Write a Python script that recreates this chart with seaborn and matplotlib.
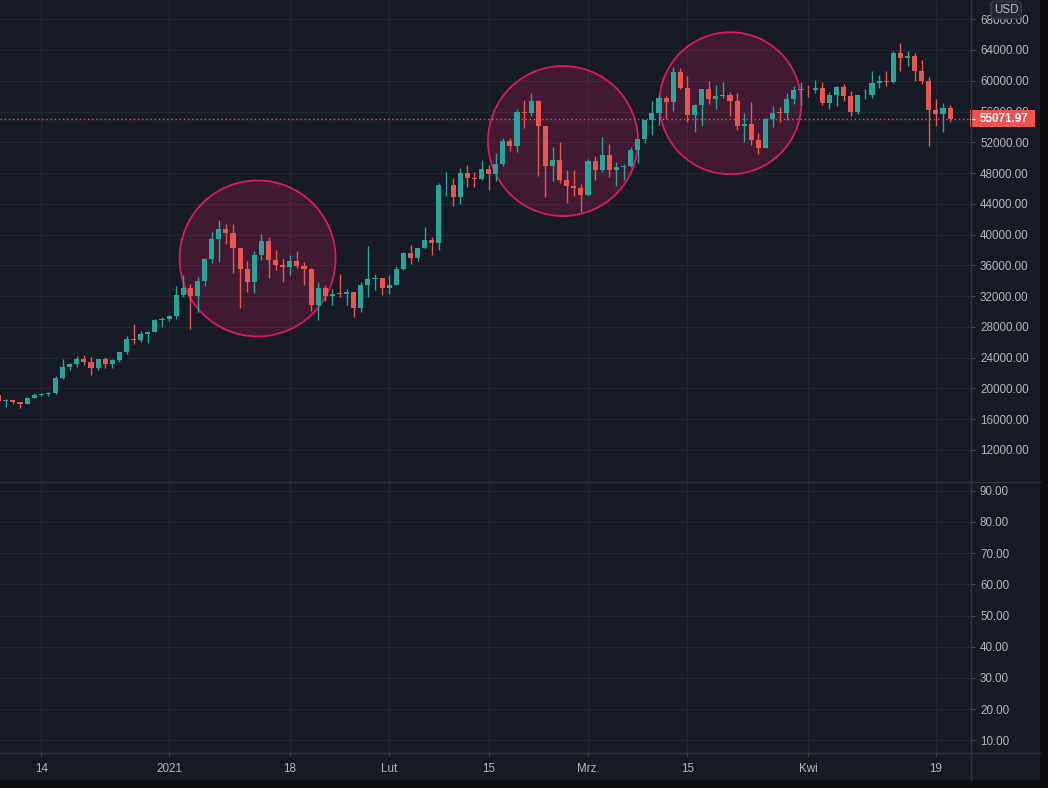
import numpy as np
import pandas as pd
import matplotlib
matplotlib.use("Agg")
import matplotlib.pyplot as plt
import matplotlib.dates as mdates
from matplotlib.patches import Ellipse, Rectangle
from matplotlib.lines import Line2D
from matplotlib.ticker import FuncFormatter
from matplotlib.transforms import blended_transform_factory
import seaborn as sns

# daily BTC/USD candles, 2020-12-08 .. 2021-04-21
start_date = "2020-12-08"
open_ = [
    # Dec
    19150, 18320, 18540, 18250, 18040, 18800, 19170, 19270, 19430, 21330, 22800, 23130,
    23850, 23470, 22720, 23820, 23240, 23730, 24710, 26490, 26280, 27080, 27390, 28890,
    # Jan
    28990, 29370, 32190, 33000, 31990, 33950, 36770, 39370, 40670, 40240, 38240, 35550,
    33900, 37320, 39130, 36760, 36020, 35790, 36630, 35890, 35470, 30850, 33000, 32070,
    32260, 32250, 32510, 30410, 33400, 34260, 34300,
    # Feb
    33090, 33500, 35500, 37660, 36950, 38290, 39250, 38900, 46400, 46480, 44840, 47970,
    47400, 47190, 48580, 47930, 49130, 52120, 51550, 55900, 55840, 57410, 54090, 48890,
    49680, 47070, 46280, 46100,
    # Mar
    45140, 49590, 48440, 50350, 48370, 48760, 48880, 50970, 52380, 54880, 55850, 57770,
    57220, 61190, 59000, 55600, 56900, 58910, 57650, 58030, 58100, 57350, 54080, 54340,
    52300, 51300, 55070, 55860, 55780, 57630, 58780,
    # Apr
    58800, 58740, 59000, 57060, 58210, 59130, 57990, 56000, 58090, 58100, 59770, 59960,
    59840, 63590, 62960, 63160, 61330, 60010, 56150, 55660, 56470,
]
high = [
    19300, 18640, 18560, 18290, 18950, 19410, 19350, 19570, 21560, 23800, 23290, 24170,
    24300, 24100, 23840, 24100, 23780, 24790, 26870, 28420, 27500, 27410, 28990, 29300,
    29600, 33300, 34800, 33600, 34500, 36940, 40370, 41950, 41380, 41350, 38260, 36630,
    37850, 40100, 39700, 37950, 36850, 37300, 37850, 36400, 35600, 33830, 33450, 32950,
    34880, 32920, 32560, 33780, 38530, 34930, 34330,
    34700, 35980, 37700, 38700, 38310, 40960, 39700, 46750, 48200, 47310, 48630, 48990,
    48150, 49710, 49010, 50620, 52620, 52530, 56370, 57500, 58350, 57530, 54180, 51380,
    52040, 48400, 48390, 46640,
    49790, 50200, 52640, 51770, 49450, 49200, 51450, 52400, 54900, 57390, 58150, 58060,
    61840, 61680, 60630, 56940, 58980, 60000, 59470, 59880, 58590, 58430, 55850, 57200,
    53230, 55100, 56700, 56560, 58400, 59370, 59800,
    59490, 60100, 59840, 58500, 59320, 59580, 58650, 58150, 58930, 61270, 60750, 61270,
    63870, 64910, 63870, 63600, 62700, 60490, 57630, 57110, 56850,
]
low = [
    18200, 17650, 17920, 17500, 18020, 18710, 19000, 19050, 19280, 21230, 22350, 22750,
    23060, 21800, 22350, 22600, 22700, 23440, 24500, 25800, 26100, 25880, 27320, 28000,
    28800, 29000, 31950, 27680, 29900, 33300, 36300, 36500, 38720, 35000, 30420, 32530,
    32380, 36700, 34400, 35350, 33850, 34800, 35700, 33400, 30070, 28850, 31390, 30900,
    31910, 30840, 29240, 29960, 31920, 32860, 32200,
    32300, 33420, 35360, 36160, 36570, 38210, 37350, 37990, 45000, 43730, 44000, 46130,
    46200, 47050, 45800, 47010, 48950, 50900, 50710, 53860, 55480, 47620, 44890, 47000,
    46670, 44110, 45000, 43000,
    45000, 47050, 48100, 47500, 46300, 47070, 48800, 49300, 51850, 53010, 54270, 55010,
    56080, 58960, 54600, 53300, 54120, 57020, 56270, 57820, 55450, 53650, 52040, 51700,
    50430, 51250, 53950, 54680, 54900, 57020, 56870,
    57930, 58430, 56900, 56330, 56720, 57350, 55420, 55720, 57630, 57760, 59060, 59320,
    59770, 61270, 61920, 59970, 59580, 51520, 54120, 53340, 54640,
]
close = [
    18320, 18540, 18250, 18040, 18800, 19170, 19270, 19430, 21330, 22800, 23130, 23850,
    23470, 22720, 23820, 23240, 23730, 24710, 26490, 26280, 27080, 27390, 28890, 28990,
    29370, 32190, 33000, 31990, 33950, 36770, 39370, 40670, 40240, 38240, 35550, 33900,
    37320, 39130, 36760, 36020, 35790, 36630, 35890, 35470, 30850, 33000, 32070, 32260,
    32250, 32510, 30410, 33400, 34260, 34300, 33090,
    33500, 35500, 37660, 36950, 38290, 39250, 38900, 46400, 46480, 44840, 47970, 47400,
    47190, 48580, 47930, 49130, 52120, 51550, 55900, 55840, 57410, 54090, 48890, 49680,
    47070, 46280, 46100, 45140,
    49590, 48440, 50350, 48370, 48760, 48880, 50970, 52380, 54880, 55850, 57770, 57220,
    61190, 59000, 55600, 56900, 58910, 57650, 58030, 58100, 57350, 54080, 54340, 52300,
    51300, 55070, 55860, 55780, 57630, 58780, 58800,
    58740, 59000, 57060, 58210, 59130, 57990, 56000, 58090, 58100, 59770, 59960, 59840,
    63590, 62960, 63160, 61330, 60010, 56150, 55660, 56470, 55071.97,
]
last_price = 55071.97

price_ticks = list(range(12000, 68001, 4000))
osc_ticks = [10, 20, 30, 40, 50, 60, 70, 80, 90]
date_ticks = ["2020-12-14", "2021-01-01", "2021-01-18", "2021-02-01", "2021-02-15",
              "2021-03-01", "2021-03-15", "2021-04-01", "2021-04-19"]
date_labels = ["14", "2021", "18", "Lut", "15", "Mrz.", "15", "Kwi", "19"]

# highlighted zones (centre date, centre price, radius in screen pixels)
zone_dates = ["2021-01-13 11:00", "2021-02-25 11:30", "2021-03-21 01:00"]
zone_prices = [36900, 52170, 57080]
zone_radius_px = [78, 75, 71]

df = pd.DataFrame({
    "date": pd.date_range(start_date, periods=len(close), freq="D"),
    "open": open_, "high": high, "low": low, "close": close,
})

bg = "#161a25"
grid_c = "#232733"
sep_c = "#2f333e"
up_c = "#26a69a"
down_c = "#ef5350"
txt_c = "#b2b5be"

sns.set_theme(style="dark", rc={"axes.facecolor": bg, "figure.facecolor": "#0b0d12"})
plt.rcParams["font.family"] = ["Liberation Sans", "DejaVu Sans"]

W, H = 1048, 788
def box(x0, y0, x1, y1):
    return [x0 / W, 1 - y1 / H, (x1 - x0) / W, (y1 - y0) / H]

fig = plt.figure(figsize=(W / 100, H / 100), dpi=100)
fig.add_artist(Rectangle((0, 8 / H), 1040 / W, 780 / H, transform=fig.transFigure,
                         facecolor=bg, edgecolor="none", zorder=-10))
ax = fig.add_axes(box(0, 0, 970, 481))
ax2 = fig.add_axes(box(0, 482, 970, 752), sharex=ax)

# candles
x = mdates.date2num(df["date"])
is_up = df["close"] >= df["open"]
cols = np.where(is_up, up_c, down_c)
ax.vlines(x, df["low"], df["high"], colors=cols, linewidth=1, zorder=3)
body = np.maximum((df["close"] - df["open"]).abs(), 110)
ax.bar(x, body, bottom=np.minimum(df["open"], df["close"]), width=0.72,
       color=cols, linewidth=0, zorder=4)

# axis ranges
d0 = mdates.date2num(pd.Timestamp("2020-12-14"))
xlim = (d0 - 5.82, d0 + 130.8)
ax.set_xlim(*xlim)
ax.set_ylim(7970, 70500)
ax2.set_ylim(6.25, 92.8)

px_per_day = 970 / (xlim[1] - xlim[0])
price_per_px = (70500 - 7970) / 481

for dt, pr, r in zip(zone_dates, zone_prices, zone_radius_px):
    cx = mdates.date2num(pd.Timestamp(dt))
    ax.add_patch(Ellipse((cx, pr), 2 * r / px_per_day, 2 * r * price_per_px,
                         facecolor=(0.914, 0.118, 0.388, 0.2), edgecolor="#d81b60",
                         linewidth=1.3, zorder=1))

# last price line + tag
ax.axhline(last_price, color=down_c, linewidth=1, linestyle=(0, (1, 2)), zorder=2)
tr = blended_transform_factory(fig.transFigure, ax.transData)
ax.add_patch(Rectangle((970 / W, last_price - 8.5 * price_per_px), 65 / W, 17 * price_per_px,
                       transform=tr, facecolor=down_c, edgecolor="none", clip_on=False, zorder=6))
ax.add_line(Line2D([970 / W, 975 / W], [last_price, last_price], transform=tr,
                   color="white", linewidth=1, clip_on=False, zorder=7))
ax.text(1004 / W, last_price, f"{last_price:.2f}", transform=tr, ha="center", va="center",
        color="white", fontsize=8.4, fontweight="bold", zorder=8, clip_on=False)

# ticks / grid
ax.set_yticks(price_ticks)
ax.yaxis.set_major_formatter(FuncFormatter(lambda v, _: f"{v:.2f}"))
ax2.set_yticks(osc_ticks)
ax2.yaxis.set_major_formatter(FuncFormatter(lambda v, _: f"{v:.2f}"))
ax2.set_xticks([mdates.date2num(pd.Timestamp(d)) for d in date_ticks])
ax2.set_xticklabels(date_labels)

for a in (ax, ax2):
    a.set_facecolor(bg)
    a.yaxis.tick_right()
    a.tick_params(axis="y", length=3.6, width=0.7, color="#4c505b", labelcolor=txt_c,
                  labelsize=8.4, pad=3.6, right=True, left=False)
    a.grid(True, color=grid_c, linewidth=0.8)
    a.set_axisbelow(True)
    for s in a.spines.values():
        s.set_visible(False)
ax.tick_params(axis="x", bottom=False, labelbottom=False)
ax2.tick_params(axis="x", bottom=True, length=3, width=0.7, color="#4c505b",
                labelcolor=txt_c, labelsize=8.4, pad=5)

# pane separators
fig.add_artist(Line2D([0, 1040 / W], [1 - 481.5 / H] * 2, color=sep_c, linewidth=1,
                      transform=fig.transFigure))
fig.add_artist(Line2D([0, 1040 / W], [1 - 752.5 / H] * 2, color=sep_c, linewidth=1,
                      transform=fig.transFigure))
fig.add_artist(Line2D([970.5 / W] * 2, [8 / H, 1], color=sep_c, linewidth=1,
                      transform=fig.transFigure))

# currency badge
fig.text(1006 / W, 1 - 10 / H, "USD", ha="center", va="center", fontsize=8.4, color=txt_c,
         bbox=dict(boxstyle="round,pad=0.25,rounding_size=0.35", facecolor="#232733",
                   edgecolor="#3c404b", linewidth=0.8), zorder=10)

fig.savefig("out.png", dpi=100, facecolor=fig.get_facecolor())
